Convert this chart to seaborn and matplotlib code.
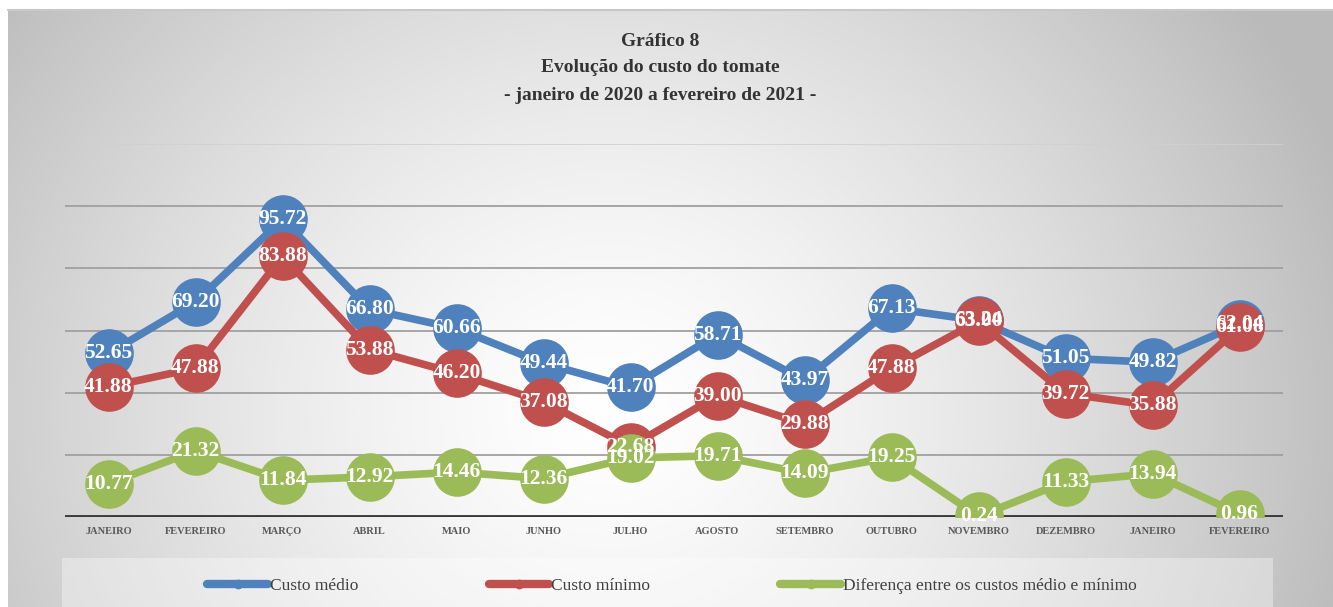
import matplotlib.pyplot as plt
import numpy as np
import seaborn as sns
from matplotlib.lines import Line2D
from matplotlib.patches import Rectangle

# data
meses = ['JANEIRO', 'FEVEREIRO', 'MARÇO', 'ABRIL', 'MAIO', 'JUNHO', 'JULHO',
         'AGOSTO', 'SETEMBRO', 'OUTUBRO', 'NOVEMBRO', 'DEZEMBRO', 'JANEIRO', 'FEVEREIRO']
custo_medio = [52.65, 69.20, 95.72, 66.80, 60.66, 49.44, 41.70,
               58.71, 43.97, 67.13, 63.24, 51.05, 49.82, 62.04]
custo_minimo = [41.88, 47.88, 83.88, 53.88, 46.20, 37.08, 22.68,
                39.00, 29.88, 47.88, 63.00, 39.72, 35.88, 61.08]
diferenca = [10.77, 21.32, 11.84, 12.92, 14.46, 12.36, 19.02,
             19.71, 14.09, 19.25, 0.24, 11.33, 13.94, 0.96]
nomes = ['Custo médio', 'Custo mínimo', 'Diferença entre os custos médio e mínimo']
cores = ['#4F81BD', '#C0504D', '#9BBB59']

sns.set_style('white')
plt.rcParams['font.family'] = ['Liberation Serif', 'DejaVu Serif']

W, H = 1333, 607
fig = plt.figure(figsize=(W / 100, H / 100), dpi=100)
fig.patch.set_facecolor('white')

# radial gradient background (rgb array, avoids colormap banding)
bg = fig.add_axes([8 / W, 0, 1 - 8 / W, (H - 10) / H])
yy, xx = np.mgrid[0:H - 10, 0:W - 8]
d = np.sqrt((xx - 600) ** 2 + ((yy - 400) * 1.1) ** 2)
t = np.clip(d / 780, 0, 1)
g = 1 - 0.27 * t ** 1.4
img = np.dstack([g, g, g])
bg.imshow(img, aspect='auto', interpolation='bilinear')
bg.axis('off')
fig.add_artist(Line2D([8 / W, 1], [(H - 10) / H] * 2, color='#c8c8c8', lw=1.5))

# legend band
fig.add_artist(Rectangle((62 / W, 0), (1273 - 62) / W, 49 / H, transform=fig.transFigure,
                         facecolor='white', alpha=0.35, edgecolor='none'))

ax = fig.add_axes([65 / W, (H - 517) / H, (1283 - 65) / W, (517 - 144) / H])
ax.set_facecolor('none')
x = np.arange(len(meses))

for k, (vals, cor) in enumerate(zip([custo_medio, custo_minimo, diferenca], cores)):
    sns.lineplot(x=x, y=vals, ax=ax, color=cor, linewidth=5.5, marker='o',
                 markersize=35, markeredgewidth=0, zorder=3 + k)
    for xi, v in zip(x, vals):
        ax.text(xi, v, f'{v:.2f}', ha='center', va='center', color='white',
                fontsize=15.5, fontweight='bold', zorder=10)

for gl in [20, 40, 60, 80, 100]:
    ax.axhline(gl, color='#a0a0a0', lw=1.3, zorder=1)
ax.axhline(120, color='#d0d0d0', lw=1.2, zorder=1)
ax.axhline(0, color='#3a3a3a', lw=3.5, zorder=2)

ax.set_xlim(-0.5, 13.5)
ax.set_ylim(0, 120)
ax.set_xticks(x)
ax.set_xticklabels(meses, fontsize=7.5, fontweight='bold', color='#595959')
ax.set_yticks([])
ax.tick_params(axis='x', length=0, pad=7)
for s in ax.spines.values():
    s.set_visible(False)

# title
tcx = 660 / W
fig.text(tcx, 1 - 41 / H, 'Gráfico 8', ha='center', va='center', fontsize=14,
         fontweight='bold', color='#333333')
fig.text(tcx, 1 - 68 / H, 'Evolução do custo do tomate', ha='center', va='center',
         fontsize=14, fontweight='bold', color='#333333')
fig.text(tcx, 1 - 96 / H, '- janeiro de 2020 a fevereiro de 2021 -', ha='center',
         va='center', fontsize=14, fontweight='bold', color='#333333')

handles = [Line2D([], [], color=c, lw=6, marker='o', markersize=6) for c in cores]
fig.legend(handles, nomes, loc='center', bbox_to_anchor=(672 / W, 21 / H), ncol=3,
           frameon=False, fontsize=12.5, handlelength=3.5, handletextpad=0.1,
           columnspacing=7.5, labelcolor='#404040')

fig.savefig('out.png', dpi=100)
